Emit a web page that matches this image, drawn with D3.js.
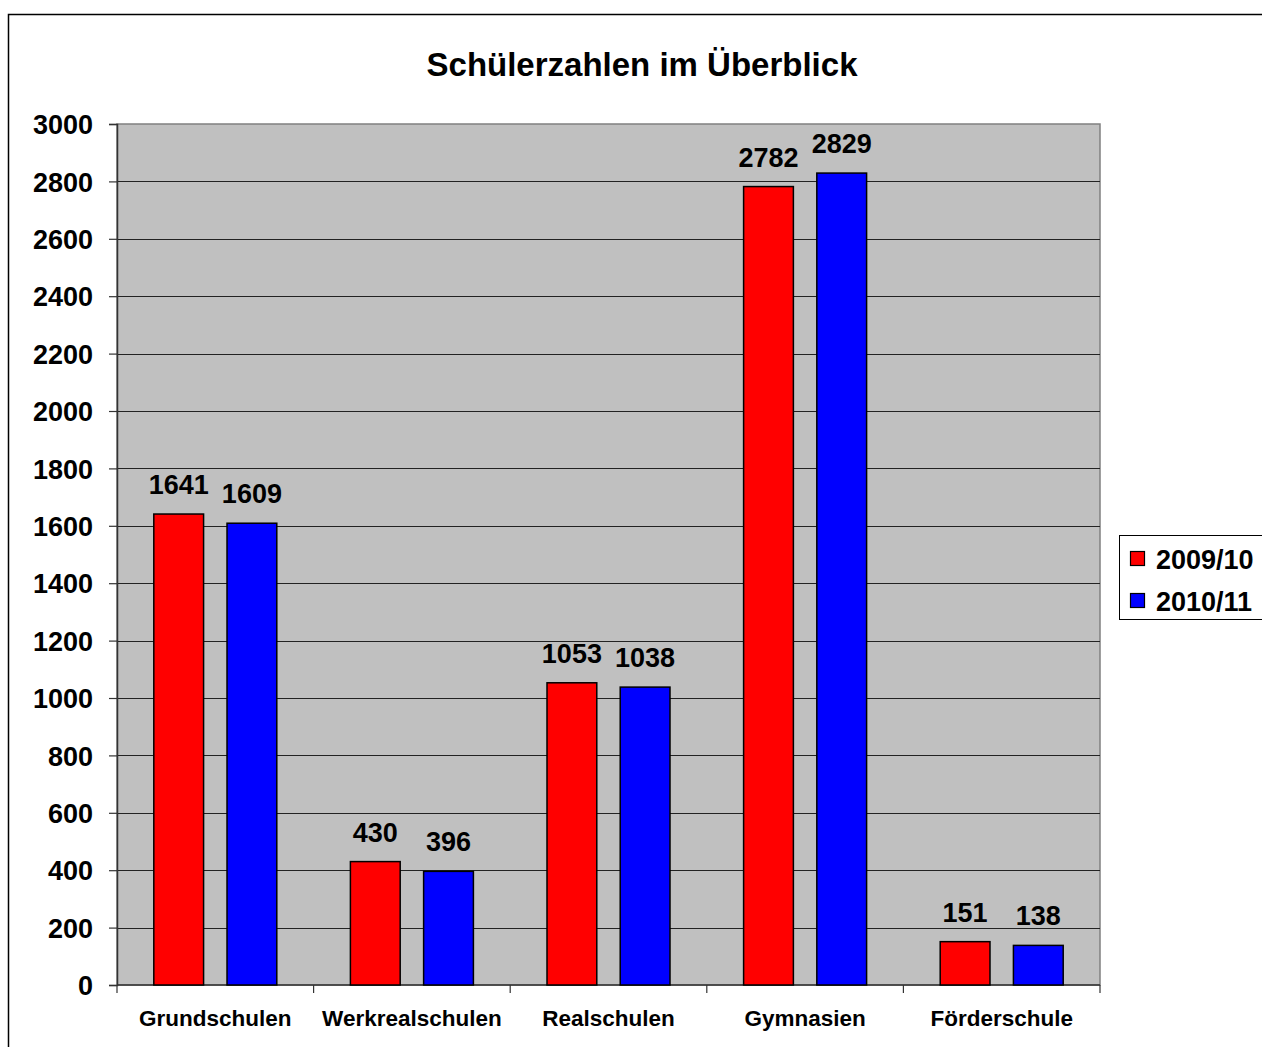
<!DOCTYPE html>
<html>
<head>
<meta charset="utf-8">
<script src="https://cdn.jsdelivr.net/npm/d3@7"></script>
<style>
    body { margin: 0; background: #fff; }
    svg { display: block; font-family: "Liberation Sans", Arial, sans-serif; font-weight: bold; }
</style>
</head>
<body>
<div id="graphContainer"></div>
<script>
"use strict";

// Chart data
const categories = ["Grundschulen", "Werkrealschulen", "Realschulen", "Gymnasien", "Förderschule"];
const seriesNames = ["2009/10", "2010/11"];
const seriesColors = ["#ff0000", "#0000ff"];
const values2009 = [1641, 430, 1053, 2782, 151];
const values2010 = [1609, 396, 1038, 2829, 138];
const yTicks = [0, 200, 400, 600, 800, 1000, 1200, 1400, 1600, 1800, 2000, 2200, 2400, 2600, 2800, 3000];
const chartTitle = "Schülerzahlen im Überblick";

const seriesValues = [values2009, values2010];

// Layout of the graph
const graphInfo = {
    width: 1262,
    height: 1047,
    plotLeft: 117,
    plotRight: 1100,
    plotTop: 124,
    plotBottom: 985
};

const svg = d3.select("#graphContainer").append("svg")
    .attr("width", graphInfo.width)
    .attr("height", graphInfo.height);

// Outer chart frame (runs past the right and bottom edge)
svg.append("rect")
    .attr("x", 8.5)
    .attr("y", 14.5)
    .attr("width", 1300)
    .attr("height", 1100)
    .attr("fill", "#fff")
    .attr("stroke", "#000")
    .attr("stroke-width", 1.5);

// Scales
const xScale = d3.scaleBand()
    .domain(categories)
    .range([graphInfo.plotLeft, graphInfo.plotRight])
    .padding(0);

const bw = xScale.bandwidth();
const xInner = d3.scaleBand()
    .domain(seriesNames)
    .range([36.8, bw - 36.8])
    .paddingInner(0.32);

const yScale = d3.scaleLinear()
    .domain([0, 3000])
    .range([graphInfo.plotBottom, graphInfo.plotTop]);

// Plot area background
svg.append("rect")
    .attr("x", graphInfo.plotLeft)
    .attr("y", graphInfo.plotTop)
    .attr("width", graphInfo.plotRight - graphInfo.plotLeft)
    .attr("height", graphInfo.plotBottom - graphInfo.plotTop)
    .attr("fill", "#c0c0c0")
    .attr("stroke", "#808080")
    .attr("stroke-width", 1.5);

// Gridlines
svg.append("g")
    .selectAll("line")
    .data(yTicks.filter(d => d > 0 && d < 3000))
    .join("line")
    .attr("x1", graphInfo.plotLeft)
    .attr("x2", graphInfo.plotRight)
    .attr("y1", d => Math.round(yScale(d)) + 0.5)
    .attr("y2", d => Math.round(yScale(d)) + 0.5)
    .attr("stroke", "#222")
    .attr("stroke-width", 1);

// Y axis
svg.append("g")
    .attr("transform", `translate(${graphInfo.plotLeft},0)`)
    .call(d3.axisLeft(yScale).tickValues(yTicks).tickSize(8).tickPadding(16).tickFormat(d3.format("d")))
    .call(g => g.select(".domain").attr("stroke", "#333").attr("stroke-width", 1.5))
    .call(g => g.selectAll(".tick line").attr("stroke", "#333").attr("stroke-width", 1.2))
    .call(g => g.selectAll(".tick text")
        .attr("font-family", "Liberation Sans, Arial, sans-serif")
        .attr("font-weight", "bold")
        .attr("font-size", 27)
        .attr("fill", "#000")
        .attr("dy", "0.36em"));

// X axis line with category ticks
const xTickPos = categories.map(c => xScale(c)).concat([graphInfo.plotRight]);
svg.append("line")
    .attr("x1", graphInfo.plotLeft)
    .attr("x2", graphInfo.plotRight)
    .attr("y1", graphInfo.plotBottom)
    .attr("y2", graphInfo.plotBottom)
    .attr("stroke", "#333")
    .attr("stroke-width", 1.5);

svg.append("g")
    .selectAll("line")
    .data(xTickPos)
    .join("line")
    .attr("x1", d => d)
    .attr("x2", d => d)
    .attr("y1", graphInfo.plotBottom)
    .attr("y2", graphInfo.plotBottom + 8)
    .attr("stroke", "#333")
    .attr("stroke-width", 1.2);

// Category labels
svg.append("g")
    .selectAll("text")
    .data(categories)
    .join("text")
    .attr("x", d => xScale(d) + bw / 2)
    .attr("y", 1026)
    .attr("text-anchor", "middle")
    .attr("font-size", 22.5)
    .text(d => d);

// Bars
const barData = [];
categories.forEach((c, i) => {
    seriesNames.forEach((s, j) => {
        barData.push({ category: c, series: s, value: seriesValues[j][i], color: seriesColors[j] });
    });
});

svg.append("g")
    .selectAll("rect")
    .data(barData)
    .join("rect")
    .attr("x", d => xScale(d.category) + xInner(d.series))
    .attr("y", d => yScale(d.value))
    .attr("width", xInner.bandwidth())
    .attr("height", d => graphInfo.plotBottom - yScale(d.value))
    .attr("fill", d => d.color)
    .attr("stroke", "#000")
    .attr("stroke-width", 1.5);

// Data labels above bars
svg.append("g")
    .selectAll("text")
    .data(barData)
    .join("text")
    .attr("x", d => xScale(d.category) + xInner(d.series) + xInner.bandwidth() / 2)
    .attr("y", d => yScale(d.value) - 20)
    .attr("text-anchor", "middle")
    .attr("font-size", 27)
    .text(d => d.value);

// Title
svg.append("text")
    .attr("x", 642)
    .attr("y", 76)
    .attr("text-anchor", "middle")
    .attr("font-size", 33)
    .text(chartTitle);

// Legend
const legend = svg.append("g");
legend.append("rect")
    .attr("x", 1119.5)
    .attr("y", 535.5)
    .attr("width", 200)
    .attr("height", 84)
    .attr("fill", "#fff")
    .attr("stroke", "#000")
    .attr("stroke-width", 1);

const legendItem = legend.selectAll("g")
    .data(seriesNames)
    .join("g")
    .attr("transform", (d, i) => `translate(1130,${551 + i * 42})`);

legendItem.append("rect")
    .attr("x", 0.5)
    .attr("y", 0.5)
    .attr("width", 14)
    .attr("height", 14)
    .attr("fill", (d, i) => seriesColors[i])
    .attr("stroke", "#000")
    .attr("stroke-width", 1.2);

legendItem.append("text")
    .attr("x", 26)
    .attr("y", 18)
    .attr("font-size", 27)
    .text(d => d);
</script>
</body>
</html>
